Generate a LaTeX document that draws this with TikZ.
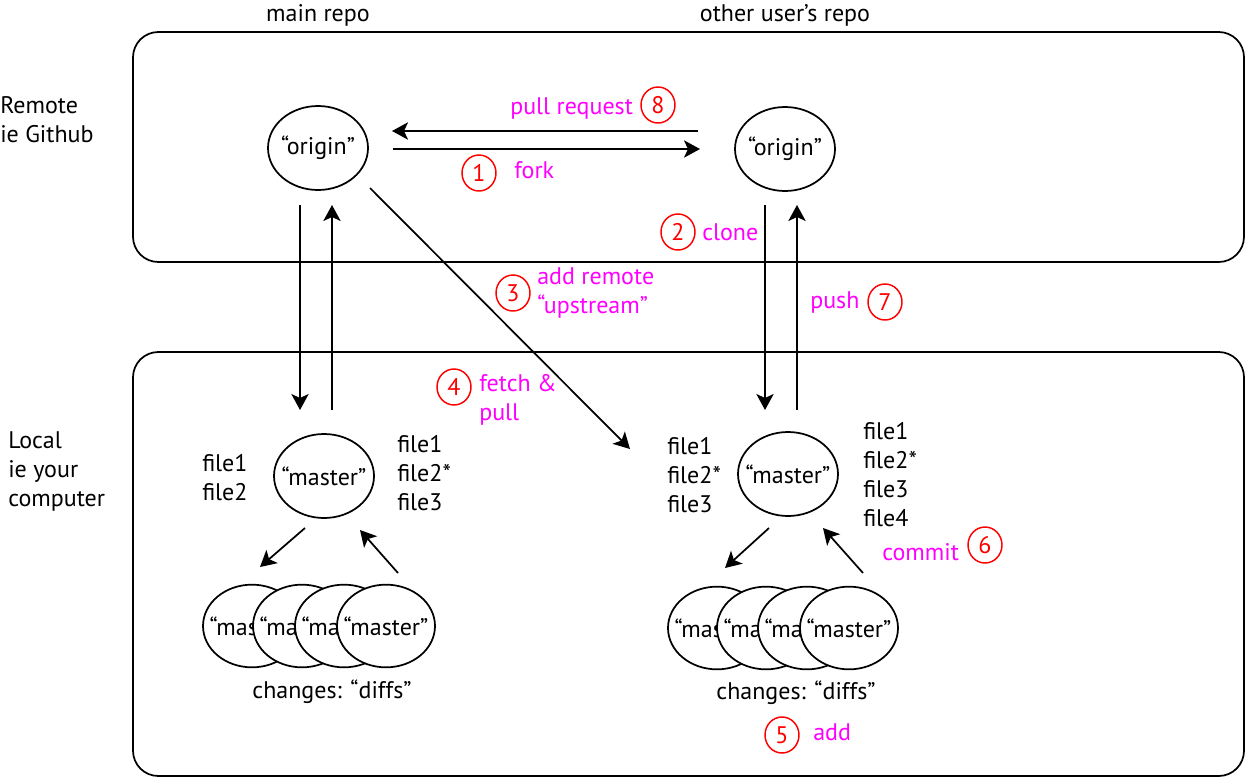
\documentclass[tikz,border=0pt]{standalone}
\usepackage{fontspec}
\setmainfont{PT Sans}
\usetikzlibrary{shapes.geometric,arrows.meta}
\definecolor{steplbl}{RGB}{255,0,255}
\definecolor{stepnum}{RGB}{255,0,0}
\newcommand{\gitfont}{\fontsize{18}{21.75}\selectfont}
\newcommand{\tight}[1]{\makebox[0pt]{#1}}
\tikzset{
  area/.style={draw, line width=1.3pt, rounded corners=19pt},
  repo/.style={ellipse, draw, line width=1.3pt, fill=white, minimum width=75pt, minimum height=63pt, inner sep=0pt},
  diff/.style={repo, minimum width=73.5pt, minimum height=62pt},
  num/.style={ellipse, draw=stepnum, text=stepnum, line width=1.1pt, minimum width=25.5pt, minimum height=27pt, inner sep=0pt},
  lbl/.style={text=steplbl, inner sep=0pt, align=left},
  txt/.style={inner sep=0pt, align=left},
  arr/.style={line width=1.3pt, -{Stealth[length=12pt, width=13pt, inset=3pt]}},
}
\begin{document}
\begin{tikzpicture}[x=0.75pt, y=-0.75pt, every node/.style={font=\gitfont}]
            \useasboundingbox (0,0) rectangle (1246,779);
            \draw[area] (133,32) rectangle (1244,262);
            \draw[area] (133,352) rectangle (1244,776);
            \node[txt] (mainhd) at (318,15) {main repo};
            \node[txt] (otherhd) at (785,15) {other user’s repo};
            \node[txt, anchor=west] (remote) at (0,120) {Remote\\ie Github};
            \node[txt, anchor=west] (local) at (8,471) {Local\\ie your\\computer};
            \node[repo] (originM) at (318,148) {\tight{“origin”}};
            \node[repo] (originO) at (785,149) {\tight{“origin”}};
            \node[repo] (masterM) at (324,476) {\tight{“master”}};
            \node[repo] (masterO) at (788,474) {\tight{“master”}};
            \foreach \x [count=\i] in {252,302,344,386}
              \node[diff] (diffM\i) at (\x,626) {\tight{“master”}};
            \foreach \x [count=\i] in {717,766,807,849}
              \node[diff] (diffO\i) at (\x,628) {\tight{“master”}};
            \node[txt] (changesM) at (332,692) {changes: “diffs”};
            \node[txt] (changesO) at (796,693) {changes: “diffs”};
            \node[txt, anchor=west] (filesM0) at (202,478) {file1\\file2};
            \node[txt, anchor=west] (filesM1) at (397,473) {file1\\file2*\\file3};
            \node[txt, anchor=west] (filesO0) at (667,475) {file1\\file2*\\file3};
            \node[txt, anchor=west] (filesO1) at (863,475) {file1\\file2*\\file3\\file4};
            \node[lbl, anchor=west] (prlbl) at (510,108) {pull request};
            \node[num] (n8) at (658,105) {8};
            \node[num] (n1) at (479,173) {1};
            \node[lbl, anchor=west] (forklbl) at (514,170) {fork};
            \node[num] (n2) at (678,232) {2};
            \node[lbl, anchor=west] (clonelbl) at (702,232) {clone};
            \node[num] (n3) at (513,293) {3};
            \node[lbl, anchor=west] (uplbl) at (537,293) {add remote\\“upstream”};
            \node[num] (n4) at (454,387) {4};
            \node[lbl, anchor=west] (fetchlbl) at (479,400) {fetch \&\\pull};
            \node[lbl, anchor=west] (pushlbl) at (810,302) {push};
            \node[num] (n7) at (885,302) {7};
            \node[lbl, anchor=west] (commitlbl) at (882,552) {commit};
            \node[num] (n6) at (985,545) {6};
            \node[num] (n5) at (782,735) {5};
            \node[lbl, anchor=west] (addlbl) at (813,732) {add};
            \coordinate (prA) at (698,131);
            \coordinate (prB) at (392,131);
            \coordinate (fkA) at (393,149);
            \coordinate (fkB) at (700,149);
            \coordinate (clMa) at (300,205);
            \coordinate (clMb) at (300,410);
            \coordinate (psMa) at (332,410);
            \coordinate (psMb) at (332,205);
            \coordinate (clOa) at (765,205);
            \coordinate (clOb) at (765,410);
            \coordinate (psOa) at (797,410);
            \coordinate (psOb) at (797,205);
            \coordinate (upA) at (370,188);
            \coordinate (upB) at (630,449);
            \coordinate (addMa) at (305,528);
            \coordinate (addMb) at (260,567);
            \coordinate (ciMa) at (398,573);
            \coordinate (ciMb) at (360,530);
            \coordinate (addOa) at (769,528);
            \coordinate (addOb) at (725,568);
            \coordinate (ciOa) at (863,573);
            \coordinate (ciOb) at (823,528);
            \draw[arr] (prA) -- (prB);
            \draw[arr] (fkA) -- (fkB);
            \draw[arr] (clMa) -- (clMb);
            \draw[arr] (psMa) -- (psMb);
            \draw[arr] (clOa) -- (clOb);
            \draw[arr] (psOa) -- (psOb);
            \draw[arr] (upA) -- (upB);
            \draw[arr] (addMa) -- (addMb);
            \draw[arr] (ciMa) -- (ciMb);
            \draw[arr] (addOa) -- (addOb);
            \draw[arr] (ciOa) -- (ciOb);
        \end{tikzpicture}
\end{document}
